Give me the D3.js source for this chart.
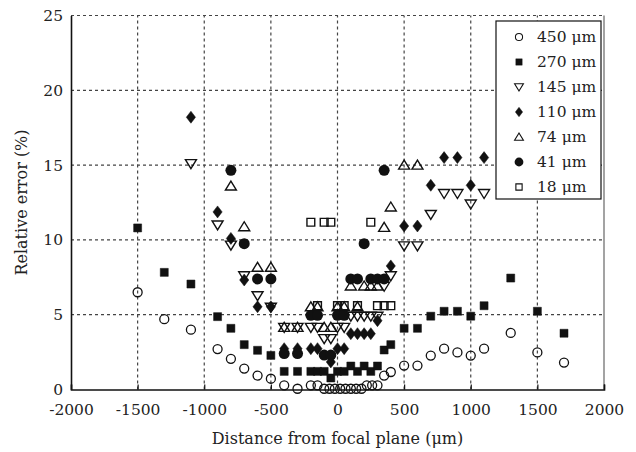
<!DOCTYPE html>
<html>
<head>
<meta charset="utf-8">
<script src="https://cdn.jsdelivr.net/npm/d3@7"></script>
<style>
  body { margin: 0; background: #fff; }
  svg { display: block; }
  text { font-family: "DejaVu Serif", "Liberation Serif", serif; fill: #222; }
</style>
</head>
<body>
<div id="chart"></div>
<script>
// Measured points [distance um, relative error %] per feature size
const s450 = [[-1500,6.5],[-1300,4.7],[-1100,4.0],[-900,2.7],[-800,2.05],[-700,1.4],[-600,0.93],[-500,0.72],[-400,0.28],[-300,0.05],[-200,0.28],[-150,0.28],[-100,0.05],[-60,0.05],[-20,0.05],[20,0.05],[60,0.05],[100,0.05],[140,0.05],[180,0.05],[220,0.28],[260,0.28],[300,0.28],[350,0.93],[400,1.17],[500,1.6],[600,1.6],[700,2.27],[800,2.73],[900,2.48],[1000,2.27],[1100,2.73],[1300,3.78],[1500,2.48],[1700,1.8]];
const s270 = [[-1500,10.8],[-1300,7.83],[-1100,7.05],[-900,4.87],[-800,4.09],[-700,3.0],[-600,2.62],[-500,2.28],[-400,1.21],[-300,1.21],[-200,1.21],[-150,1.21],[-100,1.21],[-50,0.77],[0,1.21],[50,1.21],[100,1.57],[150,1.21],[200,1.57],[250,1.21],[300,1.57],[350,2.64],[400,3.0],[500,4.09],[600,4.09],[700,4.9],[800,5.23],[900,5.23],[1000,4.9],[1100,5.6],[1300,7.45],[1500,5.23],[1700,3.76]];
const s145 = [[-1100,15.1],[-900,11.0],[-800,9.65],[-700,7.6],[-600,6.27],[-500,5.5],[-400,4.15],[-300,4.15],[-200,4.15],[-150,4.15],[-100,3.4],[-50,3.4],[0,4.15],[50,4.15],[100,4.9],[150,4.9],[200,4.9],[250,4.9],[300,4.9],[350,6.9],[400,7.6],[500,9.6],[600,9.6],[700,11.7],[800,13.1],[900,13.1],[1000,12.4],[1100,13.1]];
const s110 = [[-1100,18.2],[-900,11.87],[-800,10.1],[-700,7.32],[-600,5.53],[-500,5.53],[-400,2.73],[-300,2.73],[-200,2.73],[-150,2.73],[-50,1.84],[0,2.73],[50,2.73],[100,3.73],[150,3.73],[200,3.73],[250,3.73],[300,4.6],[400,8.26],[500,10.93],[600,10.93],[700,13.65],[800,15.5],[900,15.5],[1000,13.65],[1100,15.5]];
const s74 = [[-800,13.6],[-700,10.88],[-600,8.17],[-500,8.17],[-400,4.15],[-300,4.15],[-200,5.53],[-150,5.53],[-100,4.15],[-50,4.15],[0,5.53],[50,5.53],[100,6.92],[150,5.53],[200,6.92],[250,6.92],[300,6.92],[350,10.84],[400,12.2],[500,15.0],[600,15.0]];
const s41 = [[-800,14.65],[-700,9.75],[-600,7.39],[-500,7.39],[-400,2.4],[-300,2.4],[-200,4.96],[-150,4.96],[-100,2.3],[-50,2.3],[0,4.96],[50,4.96],[100,7.39],[150,7.39],[200,9.75],[250,7.39],[300,7.39],[350,7.39],[350,14.65]];
const s18 = [[-200,11.18],[-100,11.18],[-50,11.18],[250,11.18],[-150,5.6],[0,5.6],[50,5.6],[150,5.6],[300,5.6],[350,5.6],[400,5.6]];

const seriesLabels = ["450 \u03bcm", "270 \u03bcm", "145 \u03bcm", "110 \u03bcm", "74 \u03bcm", "41 \u03bcm", "18 \u03bcm"];
const seriesMarkers = ["circleOpen", "squareFilled", "triDown", "diamond", "triUp", "circleFilled", "squareOpen"];
const xTicks = [-2000, -1500, -1000, -500, 0, 500, 1000, 1500, 2000];
const yTicks = [0, 5, 10, 15, 20, 25];

const series = [s450, s270, s145, s110, s74, s41, s18].map((pts, i) => ({
    label: seriesLabels[i], marker: seriesMarkers[i], points: pts
}));

const width = 636, height = 452;
const margin = { top: 15.5, right: 32, bottom: 62.5, left: 71 };

const svg = d3.select("#chart").append("svg")
    .attr("width", width)
    .attr("height", height);

const x = d3.scaleLinear().domain([-2000, 2000]).range([margin.left, width - margin.right]);
const y = d3.scaleLinear().domain([0, 25]).range([height - margin.bottom, margin.top]);

// Marker shapes, centred on 0,0
const markerPath = {
    squareFilled: "M-4,-4H4V4H-4Z",
    squareOpen: "M-3.9,-3.9H3.9V3.9H-3.9Z",
    triDown: "M-5.5,-4L5.5,-4L0,5Z",
    triUp: "M-5.5,4L5.5,4L0,-5Z",
    diamond: "M0,-6L4.6,0L0,6L-4.6,0Z"
};

function drawMarker(g, type) {
    if (type === "circleOpen") {
        g.append("circle").attr("r", 4.5).attr("fill", "none").attr("stroke", "#111").attr("stroke-width", 1.3);
    } else if (type === "circleFilled") {
        g.append("circle").attr("r", 5.5).attr("fill", "#111");
    } else {
        const filled = (type === "squareFilled" || type === "diamond");
        g.append("path")
            .attr("d", markerPath[type])
            .attr("fill", filled ? "#111" : "none")
            .attr("stroke", "#111")
            .attr("stroke-width", filled ? 0.5 : 1.4);
    }
}

// Gridlines
const grid = svg.append("g").attr("stroke", "#444").attr("stroke-width", 1.2).attr("stroke-dasharray", "3,3");
grid.selectAll("line.h")
    .data(yTicks.filter(d => d > 0))
    .enter().append("line")
    .attr("x1", x(-2000)).attr("x2", x(2000))
    .attr("y1", d => y(d)).attr("y2", d => y(d));
grid.selectAll("line.v")
    .data(xTicks.filter(d => d > -2000 && d < 2000))
    .enter().append("line")
    .attr("x1", d => x(d)).attr("x2", d => x(d))
    .attr("y1", y(0)).attr("y2", y(25));

// Right border of plot area
svg.append("line")
    .attr("x1", x(2000)).attr("x2", x(2000))
    .attr("y1", y(0)).attr("y2", y(25))
    .attr("stroke", "#666").attr("stroke-width", 1.2);

// Axes
const xAxis = d3.axisBottom(x).tickValues(xTicks).tickSize(-5).tickPadding(14).tickFormat(d => String(d));
const gx = svg.append("g")
    .attr("transform", `translate(0,${y(0)})`)
    .call(xAxis);
gx.select(".domain").attr("stroke", "#111").attr("stroke-width", 1.6);
gx.selectAll(".tick line").attr("stroke", "#111").attr("stroke-width", 1.2);
gx.selectAll(".tick text").attr("font-size", "15.5px").attr("fill", "#222")
    .style("font-family", '"DejaVu Serif", serif');

const yAxis = d3.axisLeft(y).tickValues(yTicks).tickSize(0).tickPadding(8);
const gy = svg.append("g")
    .attr("transform", `translate(${x(-2000)},0)`)
    .call(yAxis);
gy.select(".domain").attr("stroke", "#111").attr("stroke-width", 1.6);
gy.selectAll(".tick text").attr("font-size", "15.5px").attr("fill", "#222")
    .style("font-family", '"DejaVu Serif", serif');

// Axis titles
svg.append("text")
    .attr("x", (x(-2000) + x(2000)) / 2)
    .attr("y", 444)
    .attr("text-anchor", "middle")
    .attr("font-size", "16px")
    .text("Distance from focal plane (\u03bcm)");

svg.append("text")
    .attr("transform", `translate(27,${(y(0) + y(25)) / 2}) rotate(-90)`)
    .attr("text-anchor", "middle")
    .attr("font-size", "16px")
    .text("Relative error (%)");

// Data points
series.forEach(s => {
    const g = svg.append("g");
    s.points.forEach(p => {
        const m = g.append("g").attr("transform", `translate(${x(p[0])},${y(p[1])})`);
        drawMarker(m, s.marker);
    });
});

// Legend
const legend = svg.append("g").attr("transform", "translate(496,21)");
legend.append("rect")
    .attr("width", 105).attr("height", 178)
    .attr("fill", "#fff").attr("stroke", "#111").attr("stroke-width", 1.2);
series.forEach((s, i) => {
    const row = legend.append("g").attr("transform", `translate(0,${16 + i * 25})`);
    const m = row.append("g").attr("transform", "translate(23,0) scale(0.8)");
    drawMarker(m, s.marker);
    row.append("text")
        .attr("x", 41).attr("y", 0)
        .attr("dy", "0.35em")
        .attr("font-size", "15.5px")
        .text(s.label);
});
</script>
</body>
</html>
